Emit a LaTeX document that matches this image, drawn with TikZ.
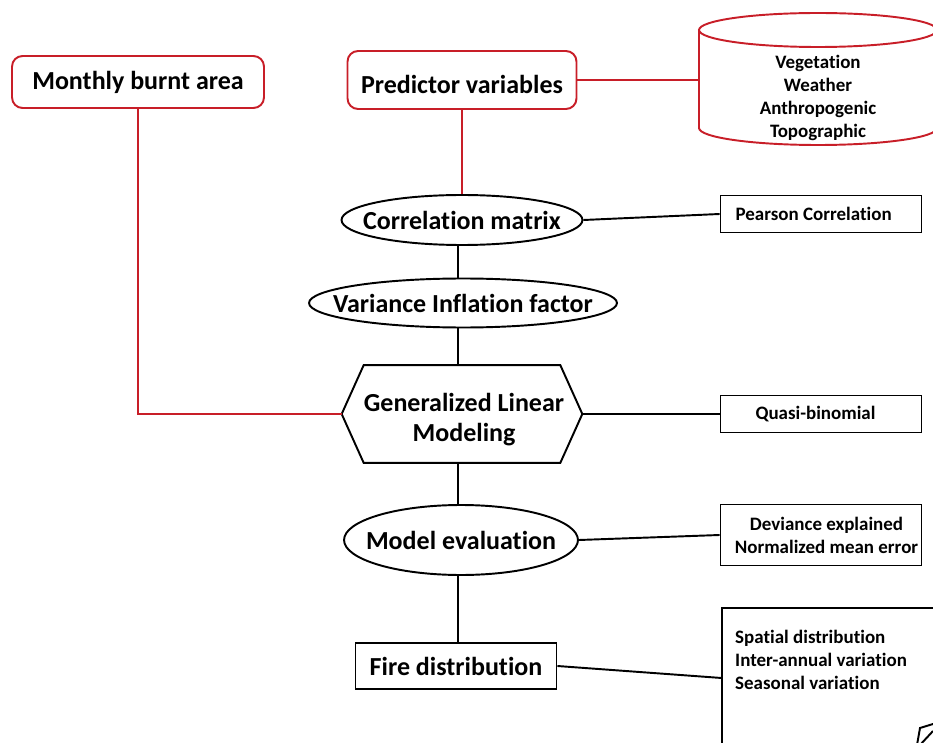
\documentclass[tikz,border=0pt]{standalone}
\usepackage{fontspec}
\setmainfont{Carlito}[Ligatures=NoCommon]
\usetikzlibrary{shapes.geometric}
\definecolor{boxred}{RGB}{200,30,40}
\tikzset{
  bigtext/.style={font=\fontsize{14.8}{17}\selectfont\bfseries},
  smalltext/.style={font=\fontsize{10.8}{13}\selectfont\bfseries},
  redbox/.style={draw=boxred, line width=1.1pt, rounded corners=6pt, bigtext},
  oval/.style={ellipse, draw, line width=1.1pt, inner sep=0pt},
  infobox/.style={draw, line width=1.1pt, minimum width=4.02cm, inner sep=0pt, align=center, smalltext},
  redline/.style={boxred, line width=1.1pt},
  blackline/.style={line width=1.1pt},
}
\begin{document}
\begin{tikzpicture}[x=0.02cm,y=0.02cm]
    \useasboundingbox (0,0) rectangle (933,-743);
    % input boxes
    \node[redbox, minimum width=5.04cm, minimum height=1.04cm] (burnt) at (138,-82) {\raisebox{1pt}{Monthly burnt area}};
    \node[redbox, minimum width=4.58cm, minimum height=1.16cm, label={[bigtext, yshift=-0.09cm]center:Predictor variables}] (predictors) at (462,-80) {};
    % cylinder with the variable groups
    \draw[redline] (699,-30) -- (699,-128) arc (180:360:119 and 17) -- (937,-30);
    \draw[redline] (818,-30) ellipse (119 and 17);
    \coordinate (cylleft) at (699,-80);
    \node[smalltext, align=center] (groups) at (818,-98) {Vegetation\\Weather\\Anthropogenic\\Topographic};
    % main chain
    \node[oval, minimum width=4.82cm, minimum height=1.0cm, label={[bigtext]center:Correlation matrix}] (corr) at (462,-220) {};
    \node[oval, minimum width=6.16cm, minimum height=0.98cm, label={[bigtext]center:Variance Inflation factor}] (vif) at (463,-303) {};
    \node[minimum width=4.8cm, minimum height=1.94cm, inner sep=0pt] (glm) at (462,-414) {};
    \draw[blackline] ([xshift=0.44cm]glm.north west) -- ([xshift=-0.44cm]glm.north east) -- (glm.east)
      -- ([xshift=-0.44cm]glm.south east) -- ([xshift=0.44cm]glm.south west) -- (glm.west) -- cycle;
    \node[bigtext, align=center] (glmtext) at (464,-420) {Generalized Linear\\Modeling};
    \node[oval, minimum width=4.68cm, minimum height=1.4cm, label={[bigtext]center:Model evaluation}] (eval) at (461,-540) {};
    \node[draw, line width=1.1pt, minimum width=4.02cm, minimum height=0.92cm, bigtext] (fire) at (456,-666) {Fire distribution};
    \coordinate (spine) at (458,0);
    % side boxes
    \node[infobox, minimum height=0.74cm] (pearson) at (821,-214) {Pearson Correlation\hspace{1.6ex}};
    \node[infobox, minimum height=0.74cm] (quasi) at (821,-414) {Quasi-binomial\hspace{1.2ex}};
    \node[infobox, minimum height=1.22cm] (metrics) at (821,-535) {\hspace{1.2ex}Deviance explained\\\hspace{1.2ex}Normalized mean error};
    \node[draw, line width=1.1pt, anchor=north west, minimum width=4.48cm, minimum height=2.8cm] (outputs) at (721,-607) {};
    \node[smalltext, align=left, anchor=north west] (outtext) at (729,-624) {Spatial distribution\\Inter-annual variation\\Seasonal variation};
    % pen fragment at the corner
    \draw[line width=1.1pt] (917,-745) -- (920,-728) -- (933,-724);
    \draw[line width=1.1pt] (920,-745) -- (933,-731);
    % connectors
    \draw[redline] (burnt.south) |- (glm.west);
    \draw[redline] (predictors.south) -- (corr.north);
    \draw[redline] (predictors.east) -- (cylleft);
    \draw[blackline] (corr.east) -- (pearson.west);
    \draw[blackline] (spine |- corr.south) -- (spine |- vif.north);
    \draw[blackline] (spine |- vif.south) -- (spine |- glm.north);
    \draw[blackline] (glm.east) -- (quasi.west);
    \draw[blackline] (spine |- glm.south) -- (spine |- eval.north);
    \draw[blackline] (eval.east) -- (metrics.west);
    \draw[blackline] (spine |- eval.south) -- (spine |- fire.north);
    \draw[blackline] (fire.east) -- (outputs.west);
\end{tikzpicture}
\end{document}
